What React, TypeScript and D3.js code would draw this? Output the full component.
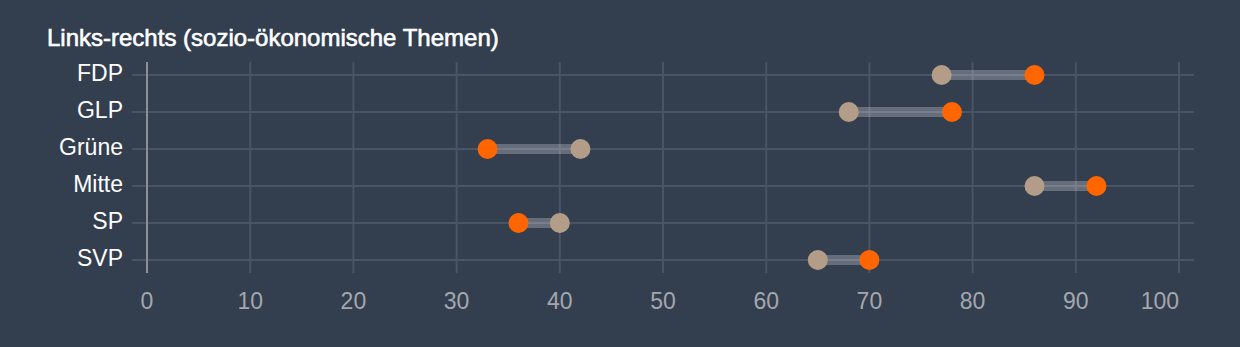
import React from "react";
import * as d3 from "d3";

const parties = ["FDP", "GLP", "Grüne", "Mitte", "SP", "SVP"];
const beigeValues = [77, 68, 42, 86, 40, 65];
const orangeValues = [86, 78, 33, 92, 36, 70];
const xTicks = [0, 10, 20, 30, 40, 50, 60, 70, 80, 90, 100];
const title = "Links-rechts (sozio-ökonomische Themen)";

const W = 1240;
const H = 347;

export default function App() {
  const x = d3.scaleLinear().domain([0, 100]).range([147, 1179]);
  const y = d3.scalePoint<string>().domain(parties).range([75, 260]);
  const font = "Helvetica, 'Liberation Sans', Arial, sans-serif";
  const gridTop = 62;
  const gridBottom = 273;
  const lastTick = xTicks[xTicks.length - 1];

  return (
    <svg
      width={W}
      height={H}
      style={{ position: "absolute", left: 0, top: 0, display: "block" }}
      fontFamily={font}
    >
      <rect x={0} y={0} width={W} height={H} fill="#333e4f" />
      <text
        x={47}
        y={46}
        fill="#ffffff"
        stroke="#ffffff"
        strokeWidth={0.6}
        fontSize={24}
        fontWeight={400}
      >
        {title}
      </text>
      {parties.map((p) => (
        <line key={"h" + p} x1={132} x2={1194} y1={y(p)} y2={y(p)} stroke="#4b5463" strokeWidth={2} />
      ))}
      {xTicks.map((t) => (
        <line
          key={"v" + t}
          x1={x(t)}
          x2={x(t)}
          y1={gridTop}
          y2={gridBottom}
          stroke={t === 0 ? "#8a909a" : "#4b5463"}
          strokeWidth={2}
        />
      ))}
      {parties.map((p) => (
        <text
          key={"l" + p}
          x={123}
          y={y(p)!}
          dy={6}
          textAnchor="end"
          fill="#ffffff"
          fontSize={23}
        >
          {p}
        </text>
      ))}
      {xTicks.map((t) => (
        <text
          key={"t" + t}
          x={x(t)}
          y={309}
          textAnchor={t === lastTick ? "end" : "middle"}
          fill="#a3a7ae"
          fontSize={23}
        >
          {t}
        </text>
      ))}
      {parties.map((p, i) => {
        const a = beigeValues[i];
        const b = orangeValues[i];
        const cy = y(p)!;
        return (
          <g key={"d" + p}>
            <line
              x1={x(Math.min(a, b))}
              x2={x(Math.max(a, b))}
              y1={cy}
              y2={cy}
              stroke="#ffffff"
              strokeOpacity={0.25}
              strokeWidth={10}
            />
            <circle cx={x(a)} cy={cy} r={10} fill="#b39d88" />
            <circle cx={x(b)} cy={cy} r={10} fill="#ff6600" />
          </g>
        );
      })}
    </svg>
  );
}
